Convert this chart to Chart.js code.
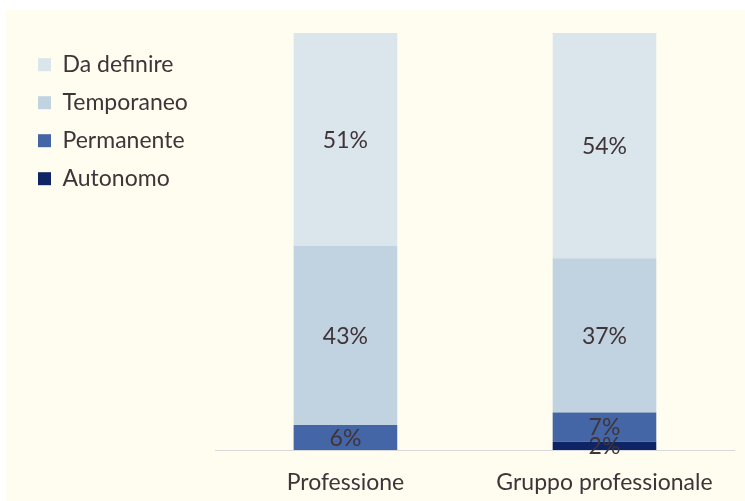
<!DOCTYPE html>
<html>
<head>
<meta charset="utf-8">
<script src="https://cdn.jsdelivr.net/npm/chart.js@4/dist/chart.umd.min.js"></script>
<style>
  body { margin: 0; background: #fff; }
  #wrap { position: absolute; left: 6px; top: 10px; width: 739px; height: 491px; background: #FFFDF0; }
</style>
</head>
<body>
<div id="wrap"><canvas id="chart" width="739" height="491"></canvas></div>
<script>
// categories and series (percent)
const categories = ['Professione', 'Gruppo professionale'];
const autonomo = [0, 2];
const permanente = [6, 7];
const temporaneo = [43, 37];
const daDefinire = [51, 54];

const textColor = '#3F3539';
const fontFamily = 'Lato, "Open Sans", sans-serif';

// draws the % value in the middle of each segment
const segmentLabels = {
  id: 'segmentLabels',
  afterDatasetsDraw(chart) {
    const ctx = chart.ctx;
    ctx.save();
    ctx.font = '23px ' + fontFamily;
    ctx.fillStyle = textColor;
    ctx.textAlign = 'center';
    ctx.textBaseline = 'middle';
    chart.data.datasets.forEach((ds, i) => {
      chart.getDatasetMeta(i).data.forEach((bar, j) => {
        const v = ds.data[j];
        if (!v) return;
        const mid = (bar.y + bar.base) / 2;
        ctx.fillText(v + '%', bar.x, mid + 1);
      });
    });
    ctx.restore();
  }
};

new Chart(document.getElementById('chart'), {
  type: 'bar',
  data: {
    labels: categories,
    datasets: [
      { label: 'Autonomo', data: autonomo, backgroundColor: '#0E2464' },
      { label: 'Permanente', data: permanente, backgroundColor: '#4466A7' },
      { label: 'Temporaneo', data: temporaneo, backgroundColor: '#C1D3E0' },
      { label: 'Da definire', data: daDefinire, backgroundColor: '#DAE6EC' }
    ]
  },
  options: {
    responsive: false,
    animation: false,
    layout: { padding: { top: 23, right: 11, bottom: 0, left: 17 } },
    datasets: { bar: { barPercentage: 0.4, categoryPercentage: 1 } },
    plugins: {
      title: { display: false },
      tooltip: { enabled: false },
      legend: {
        position: 'left',
        align: 'start',
        reverse: true,
        title: { display: true, text: ' ', font: { size: 1 }, padding: { top: 2, bottom: 2 } },
        labels: {
          boxWidth: 13,
          boxHeight: 13,
          padding: 15,
          color: textColor,
          font: { family: fontFamily, size: 23 }
        }
      }
    },
    scales: {
      x: {
        stacked: true,
        grid: { display: false, drawTicks: false },
        border: { display: true, color: '#D9D9D9', width: 1 },
        ticks: { color: textColor, padding: 19, font: { family: fontFamily, size: 23 } },
        afterFit(scale) { scale.height = 51; }
      },
      y: {
        stacked: true,
        min: 0,
        max: 100,
        grid: { display: false },
        border: { display: false },
        ticks: { display: false },
        afterFit(scale) { scale.width = 18; }
      }
    }
  },
  plugins: [segmentLabels]
});
</script>
</body>
</html>
